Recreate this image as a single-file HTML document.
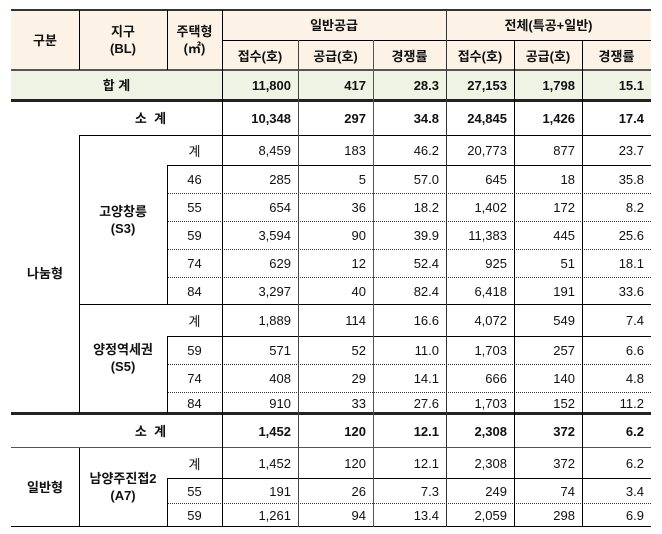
<!DOCTYPE html>
<html><head><meta charset="utf-8"><style>
body{margin:0;background:#fff;width:662px;height:534px;position:relative;overflow:hidden;font-family:"Liberation Sans","Noto Sans CJK KR","NanumGothic",sans-serif;font-size:13px;color:#111}
.r{position:absolute;left:0;width:662px}
.r span{position:absolute;top:0;height:100%;display:flex;align-items:center;justify-content:flex-end;box-sizing:border-box;padding-right:7px;white-space:nowrap}
.t{left:167px;width:55px;justify-content:center!important;padding:0!important}
.a{left:222px;width:76px}.b{left:298px;width:75px}.c{left:373px;width:73px}
.d{left:446px;width:68px}.e{left:514px;width:68px}.f{left:582px;width:69px}
.B span{font-weight:bold}
.h{position:absolute;background:#000}
.v{position:absolute;width:1px;background:#000}
.dt{position:absolute;height:0;border-top:1px dotted #333}
.lab{position:absolute;display:flex;align-items:center;justify-content:center;text-align:center;font-weight:bold;line-height:17px}
</style></head><body>
<div style="position:absolute;left:11px;top:10px;width:640px;height:60px;background:#fcf3e6"></div>
<div style="position:absolute;left:11px;top:70px;width:640px;height:30px;background:#eef3e4"></div>

<!-- horizontal lines -->
<div class="h" style="left:11px;top:9px;width:640px;height:2px;background:#333"></div>
<div class="h" style="left:222px;top:40px;width:429px;height:1px"></div>
<div class="h" style="left:11px;top:69px;width:640px;height:2px;background:#555"></div>
<div class="h" style="left:11px;top:99px;width:640px;height:3px;background:#222"></div>
<div class="h" style="left:79px;top:135px;width:572px;height:1px"></div>
<div class="h" style="left:167px;top:165px;width:484px;height:1px"></div>
<div class="dt" style="left:167px;top:193px;width:484px"></div>
<div class="dt" style="left:167px;top:221px;width:484px"></div>
<div class="dt" style="left:167px;top:249px;width:484px"></div>
<div class="dt" style="left:167px;top:277px;width:484px"></div>
<div class="h" style="left:79px;top:304px;width:572px;height:1px"></div>
<div class="h" style="left:167px;top:336px;width:484px;height:1px"></div>
<div class="dt" style="left:167px;top:364px;width:484px"></div>
<div class="dt" style="left:167px;top:392px;width:484px"></div>
<div class="h" style="left:11px;top:412px;width:640px;height:3px;background:#222"></div>
<div class="h" style="left:11px;top:447px;width:640px;height:1px;background:#555"></div>
<div class="h" style="left:167px;top:478px;width:484px;height:1px"></div>
<div class="dt" style="left:167px;top:503px;width:484px"></div>
<div class="h" style="left:11px;top:526px;width:640px;height:1px"></div>

<!-- vertical lines -->
<div class="v" style="left:79px;top:10px;height:60px"></div>
<div class="v" style="left:167px;top:10px;height:60px"></div>
<div class="v" style="left:79px;top:135px;height:278px"></div>
<div class="v" style="left:167px;top:165px;height:139px"></div>
<div class="v" style="left:167px;top:336px;height:77px"></div>
<div class="v" style="left:79px;top:448px;height:79px"></div>
<div class="v" style="left:167px;top:478px;height:49px"></div>
<div class="v" style="left:222px;top:10px;height:517px"></div>
<div class="v" style="left:298px;top:40px;height:487px;background:#444"></div>
<div class="v" style="left:373px;top:40px;height:487px;background:#555"></div>
<div class="v" style="left:446px;top:10px;height:517px;background:#333"></div>
<div class="v" style="left:514px;top:40px;height:487px"></div>
<div class="v" style="left:582px;top:40px;height:487px"></div>

<!-- headers -->
<div class="lab" style="left:11px;top:10px;width:68px;height:60px">구분</div>
<div class="lab" style="left:79px;top:10px;width:88px;height:60px">지구<br>(BL)</div>
<div class="lab" style="left:167px;top:10px;width:55px;height:60px">주택형<br>(㎡)</div>
<div class="lab" style="left:222px;top:10px;width:224px;height:30px">일반공급</div>
<div class="lab" style="left:446px;top:10px;width:205px;height:30px">전체(특공+일반)</div>
<div class="r B" style="top:40px;height:30px"><span class="a" style="justify-content:center;padding:0">접수(호)</span><span class="b" style="justify-content:center;padding:0">공급(호)</span><span class="c" style="justify-content:center;padding:0">경쟁률</span><span class="d" style="justify-content:center;padding:0">접수(호)</span><span class="e" style="justify-content:center;padding:0">공급(호)</span><span class="f" style="justify-content:center;padding:0">경쟁률</span></div>

<div class="lab" style="left:11px;top:70px;width:211px;height:30px">합 계</div>
<div class="r B" style="top:70px;height:30px"><span class="a">11,800</span><span class="b">417</span><span class="c">28.3</span><span class="d">27,153</span><span class="e">1,798</span><span class="f">15.1</span></div>

<div class="lab" style="left:79px;top:101px;width:143px;height:34px">소 &nbsp;계</div>
<div class="r B" style="top:101px;height:34px"><span class="a">10,348</span><span class="b">297</span><span class="c">34.8</span><span class="d">24,845</span><span class="e">1,426</span><span class="f">17.4</span></div>

<div class="lab" style="left:11px;top:135px;width:68px;height:277px">나눔형</div>
<div class="lab" style="left:79px;top:135px;width:88px;height:169px">고양창릉<br>(S3)</div>
<div class="lab" style="left:79px;top:304px;width:88px;height:108px">양정역세권<br>(S5)</div>
<div class="lab" style="left:11px;top:448px;width:68px;height:78px">일반형</div>
<div class="lab" style="left:79px;top:448px;width:88px;height:78px">남양주진접2<br>(A7)</div>

<div class="r" style="top:136px;height:29px"><span class="t">계</span><span class="a">8,459</span><span class="b">183</span><span class="c">46.2</span><span class="d">20,773</span><span class="e">877</span><span class="f">23.7</span></div>
<div class="r" style="top:166px;height:27px"><span class="t">46</span><span class="a">285</span><span class="b">5</span><span class="c">57.0</span><span class="d">645</span><span class="e">18</span><span class="f">35.8</span></div>
<div class="r" style="top:194px;height:27px"><span class="t">55</span><span class="a">654</span><span class="b">36</span><span class="c">18.2</span><span class="d">1,402</span><span class="e">172</span><span class="f">8.2</span></div>
<div class="r" style="top:222px;height:27px"><span class="t">59</span><span class="a">3,594</span><span class="b">90</span><span class="c">39.9</span><span class="d">11,383</span><span class="e">445</span><span class="f">25.6</span></div>
<div class="r" style="top:250px;height:27px"><span class="t">74</span><span class="a">629</span><span class="b">12</span><span class="c">52.4</span><span class="d">925</span><span class="e">51</span><span class="f">18.1</span></div>
<div class="r" style="top:278px;height:26px"><span class="t">84</span><span class="a">3,297</span><span class="b">40</span><span class="c">82.4</span><span class="d">6,418</span><span class="e">191</span><span class="f">33.6</span></div>
<div class="r" style="top:305px;height:31px"><span class="t">계</span><span class="a">1,889</span><span class="b">114</span><span class="c">16.6</span><span class="d">4,072</span><span class="e">549</span><span class="f">7.4</span></div>
<div class="r" style="top:337px;height:27px"><span class="t">59</span><span class="a">571</span><span class="b">52</span><span class="c">11.0</span><span class="d">1,703</span><span class="e">257</span><span class="f">6.6</span></div>
<div class="r" style="top:365px;height:27px"><span class="t">74</span><span class="a">408</span><span class="b">29</span><span class="c">14.1</span><span class="d">666</span><span class="e">140</span><span class="f">4.8</span></div>
<div class="r" style="top:393px;height:20px"><span class="t">84</span><span class="a">910</span><span class="b">33</span><span class="c">27.6</span><span class="d">1,703</span><span class="e">152</span><span class="f">11.2</span></div>

<div class="lab" style="left:79px;top:415px;width:143px;height:32px">소 &nbsp;계</div>
<div class="r B" style="top:415px;height:32px"><span class="a">1,452</span><span class="b">120</span><span class="c">12.1</span><span class="d">2,308</span><span class="e">372</span><span class="f">6.2</span></div>

<div class="r" style="top:448px;height:30px"><span class="t">계</span><span class="a">1,452</span><span class="b">120</span><span class="c">12.1</span><span class="d">2,308</span><span class="e">372</span><span class="f">6.2</span></div>
<div class="r" style="top:479px;height:24px"><span class="t">55</span><span class="a">191</span><span class="b">26</span><span class="c">7.3</span><span class="d">249</span><span class="e">74</span><span class="f">3.4</span></div>
<div class="r" style="top:504px;height:22px"><span class="t">59</span><span class="a">1,261</span><span class="b">94</span><span class="c">13.4</span><span class="d">2,059</span><span class="e">298</span><span class="f">6.9</span></div>
</body></html>
